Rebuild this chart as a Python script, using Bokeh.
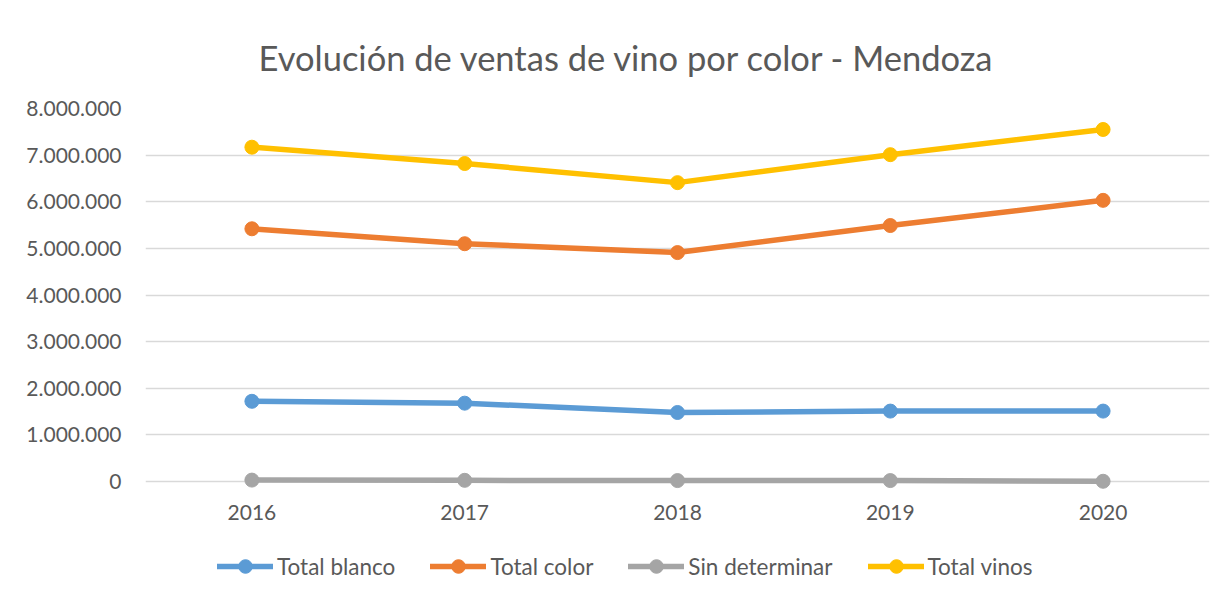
from bokeh.plotting import figure
from bokeh.models import FixedTicker, CustomJSTickFormatter, Legend, LegendItem, Range1d
from bokeh.embed import file_html
from bokeh.resources import INLINE

years = ["2016", "2017", "2018", "2019", "2020"]
total_blanco = [1720000, 1680000, 1480000, 1510000, 1510000]
total_color = [5420000, 5100000, 4910000, 5490000, 6030000]
sin_determinar = [30000, 25000, 20000, 20000, 5000]
total_vinos = [7170000, 6820000, 6410000, 7010000, 7550000]
y_ticks = [0, 1000000, 2000000, 3000000, 4000000, 5000000, 6000000, 7000000, 8000000]

series = [
    ("Total blanco", total_blanco, "#5B9BD5"),
    ("Total color", total_color, "#ED7D31"),
    ("Sin determinar", sin_determinar, "#A5A5A5"),
    ("Total vinos", total_vinos, "#FFC000"),
]

FONT = "Lato"
TXT = "#595959"

# plot area: 0..8M over 373px, plus 117px of room below 0 for the axis labels and legend
PLOT_H = 373
BELOW_H = 117
y_max = y_ticks[-1]
y_min = -y_max * BELOW_H / PLOT_H

p = figure(x_range=years, y_range=Range1d(y_min, y_max),
           frame_width=1064, frame_height=PLOT_H + BELOW_H,
           output_backend="svg", toolbar_location=None,
           title="Evolución de ventas de vino por color - Mendoza")
p.x_range.range_padding = 0
p.min_border_left = 145
p.min_border_right = 18
p.min_border_top = 108
p.min_border_bottom = 0
p.outline_line_color = None
p.background_fill_color = "white"
p.border_fill_color = "white"

p.title.text_font = FONT
p.title.text_font_size = "34.5px"
p.title.text_font_style = "normal"
p.title.text_color = TXT
p.title.align = "left"
p.title.offset = 113
p.title.standoff = 62

p.xgrid.grid_line_color = None
p.ygrid.grid_line_color = "#D9D9D9"
p.ygrid.grid_line_width = 1.5

p.yaxis.ticker = FixedTicker(ticks=y_ticks)
p.yaxis.formatter = CustomJSTickFormatter(code="""
return tick.toFixed(0).replace(/\\B(?=(\\d{3})+(?!\\d))/g, ".");
""")
for ax in (p.xaxis, p.yaxis):
    ax.axis_line_color = None
    ax.major_tick_line_color = None
    ax.minor_tick_line_color = None
    ax.major_label_text_font = FONT
    ax.major_label_text_font_size = "21px"
    ax.major_label_text_color = TXT
p.yaxis.major_label_standoff = 18
p.xaxis.major_label_standoff = 17
p.xaxis.fixed_location = 0

items = []
for name, vals, col in series:
    r1 = p.line(years, vals, line_color=col, line_width=5.5, line_cap="round", line_join="round")
    r2 = p.scatter(years, vals, size=14, fill_color=col, line_color=col)
    items.append(LegendItem(label=name, renderers=[r1, r2]))

legend = Legend(items=items, orientation="horizontal", location=(72, 15),
                border_line_color=None, background_fill_alpha=0,
                label_text_font=FONT, label_text_font_size="22.5px", label_text_color=TXT,
                glyph_width=56, glyph_height=34, label_standoff=4, spacing=35,
                padding=0, margin=0)
p.add_layout(legend, "center")

open("out.html", "w").write(file_html(p, INLINE))
